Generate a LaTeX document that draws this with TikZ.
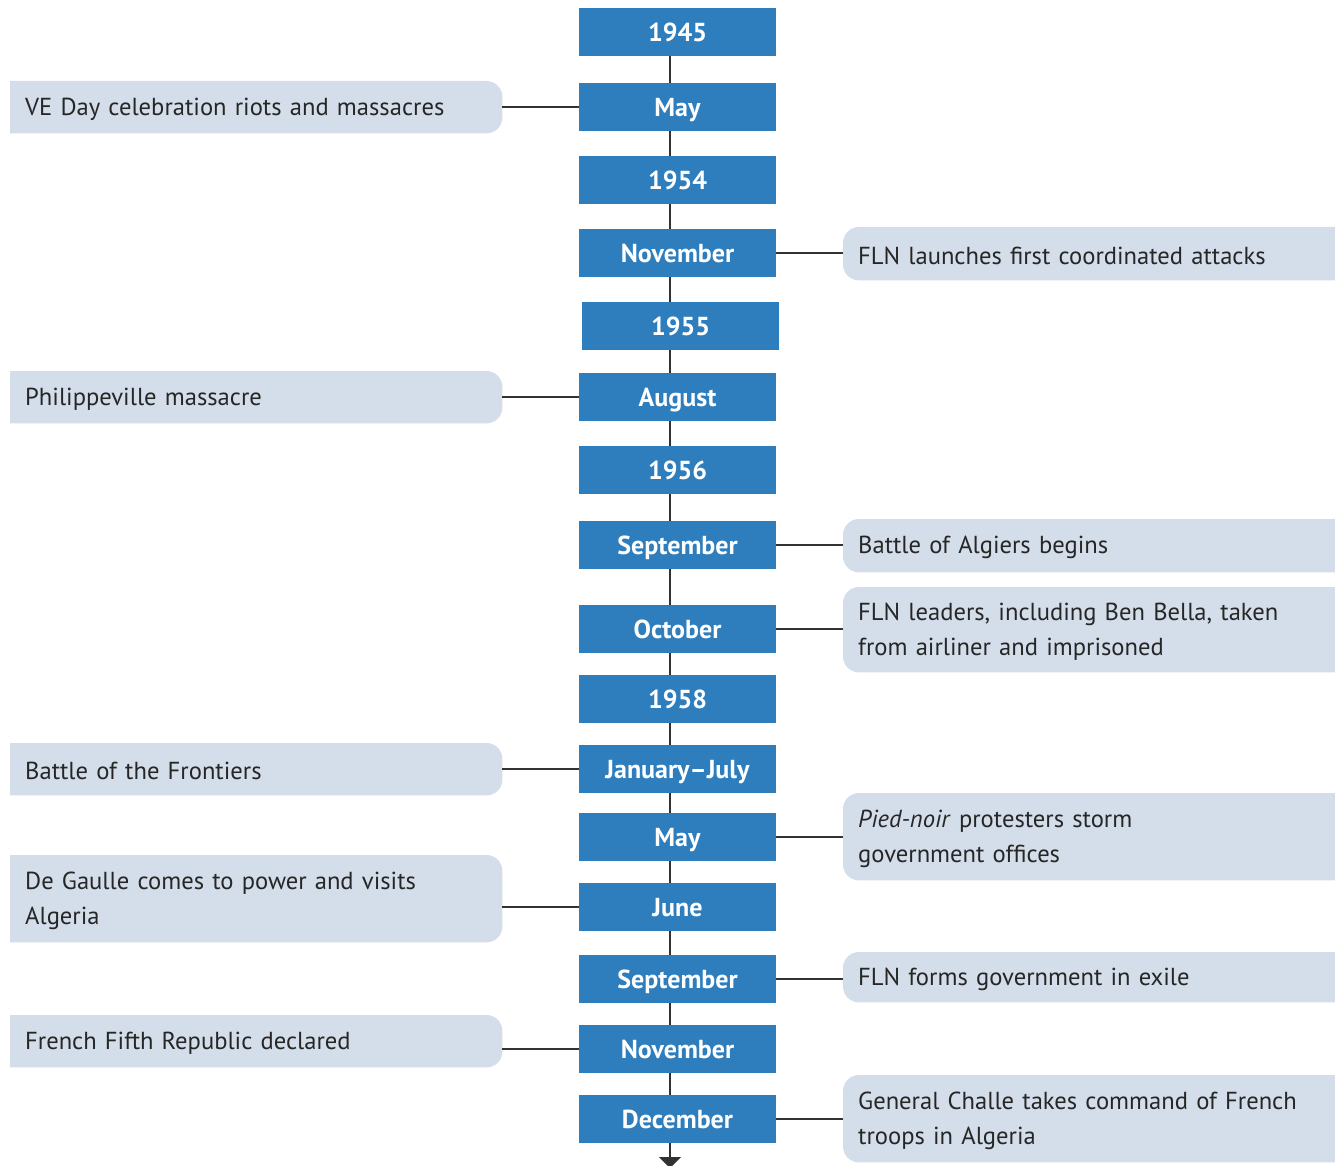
\documentclass[tikz,border=0pt]{standalone}
\usepackage{fontspec}
\setmainfont{PT Sans}
\usetikzlibrary{backgrounds,arrows.meta}
\definecolor{yearblue}{RGB}{46,126,190}
\definecolor{eventfill}{RGB}{211,222,234}
\definecolor{linkgray}{RGB}{50,50,50}
\tikzset{
  datebox/.style={fill=yearblue, text=white, minimum width=197pt, minimum height=48pt,
    inner sep=0pt, text height=18.2pt, text depth=0pt,
    font=\fontsize{26}{28}\selectfont\bfseries},
  eventbox/.style={anchor=north west, text width=462pt, inner xsep=15pt, inner ysep=0pt,
    align=left, text=black!85, font=\fontsize{24.6}{35}\selectfont},
  link/.style={draw=linkgray, line width=1.3pt},
}
% event box on the left: square left side, rounded right side
% (the text sits 2pt lower than the middle of its box)
\newcommand{\leftevent}[4]{%
  \node[eventbox, minimum height=#3pt, yshift=-2pt] (#1) at (10,#2) {#4};
  \begin{scope}[on background layer]
    \fill[eventfill] ([yshift=2pt]#1.south west) -- ([yshift=2pt]#1.north west)
      [rounded corners=16pt] -- ([yshift=2pt]#1.north east) -- ([yshift=2pt]#1.south east)
      [sharp corners] -- cycle;
  \end{scope}}
% event box on the right: rounded left side, square right side
\newcommand{\rightevent}[4]{%
  \node[eventbox, minimum height=#3pt, yshift=-2pt] (#1) at (843,#2) {#4};
  \begin{scope}[on background layer]
    \fill[eventfill] ([yshift=2pt]#1.north east) -- ([yshift=2pt]#1.south east)
      [rounded corners=16pt] -- ([yshift=2pt]#1.south west) -- ([yshift=2pt]#1.north west)
      [sharp corners] -- cycle;
  \end{scope}}
\begin{document}
\begin{tikzpicture}[x=1pt, y=-1pt]
\useasboundingbox (0,0) rectangle (1335,1166);

% timeline dates
\node[datebox] (d45)   at (677.5,32)   {1945};
\node[datebox] (d45m)  at (677.5,107)  {May};
\node[datebox] (d54)   at (677.5,180)  {1954};
\node[datebox] (d54n)  at (677.5,253)  {November};
\node[datebox] (d55)   at (680.5,326)  {1955};
\node[datebox] (d55a)  at (677.5,397)  {August};
\node[datebox] (d56)   at (677.5,470)  {1956};
\node[datebox] (d56s)  at (677.5,545)  {September};
\node[datebox] (d56o)  at (677.5,629)  {October};
\node[datebox] (d58)   at (677.5,699)  {1958};
\node[datebox] (d58j)  at (677.5,769)  {January–July};
\node[datebox] (d58m)  at (677.5,837)  {May};
\node[datebox] (d58ju) at (677.5,907)  {June};
\node[datebox] (d58s)  at (677.5,979)  {September};
\node[datebox] (d58n)  at (677.5,1049) {November};
\node[datebox] (d58d)  at (677.5,1119) {December};
\coordinate (tend) at (670,1168);

% spine of the timeline
\begin{scope}[on background layer]
  \foreach \a/\b in {d45/d45m, d45m/d54, d54/d54n, d54n/d55, d55/d55a, d55a/d56,
      d56/d56s, d56s/d56o, d56o/d58, d58/d58j, d58j/d58m, d58m/d58ju,
      d58ju/d58s, d58s/d58n, d58n/d58d}
    \draw[link] (670,0 |- \a.south) -- (670,0 |- \b.north);
\end{scope}
\draw[link, -{Triangle[width=22pt,length=11pt]}] (670,0 |- d58d.south) -- (tend);

% events
\leftevent{e1}{81}{52}{VE Day celebration riots and massacres}
\rightevent{e2}{227}{53}{FLN launches first coordinated attacks}
\leftevent{e3}{371}{52}{Philippeville massacre}
\rightevent{e4}{519}{53}{Battle of Algiers begins}
\rightevent{e5}{587}{85}{FLN leaders, including Ben Bella, taken\\from airliner and imprisoned}
\leftevent{e6}{743}{52}{Battle of the Frontiers}
\rightevent{e7}{793}{87}{\textit{Pied-noir} protesters storm\\government offices}
\leftevent{e8}{855}{87}{De Gaulle comes to power and visits\\Algeria}
\rightevent{e9}{952}{50}{FLN forms government in exile}
\leftevent{e10}{1015}{52}{French Fifth Republic declared}
\rightevent{e11}{1075}{87}{General Challe takes command of French\\troops in Algeria}

% connectors from dates to events
\draw[link] (e1.east |- d45m) -- (d45m.west);
\draw[link] (d54n.east) -- (e2.west |- d54n);
\draw[link] (e3.east |- d55a) -- (d55a.west);
\draw[link] (d56s.east) -- (e4.west |- d56s);
\draw[link] (d56o.east) -- (e5.west |- d56o);
\draw[link] (e6.east |- d58j) -- (d58j.west);
\draw[link] (d58m.east) -- (e7.west |- d58m);
\draw[link] (e8.east |- d58ju) -- (d58ju.west);
\draw[link] (d58s.east) -- (e9.west |- d58s);
\draw[link] (e10.east |- d58n) -- (d58n.west);
\draw[link] (d58d.east) -- (e11.west |- d58d);
\end{tikzpicture}
\end{document}
